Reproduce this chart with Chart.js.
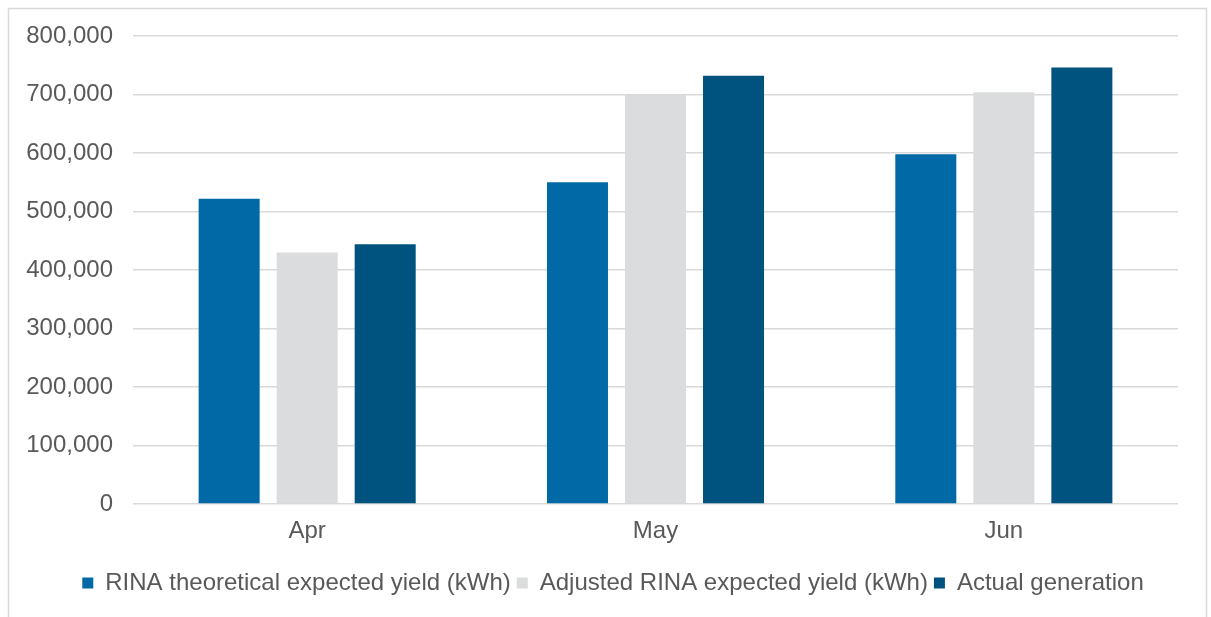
<!DOCTYPE html>
<html>
<head>
<meta charset="utf-8">
<script src="https://cdn.jsdelivr.net/npm/chart.js@4"></script>
<style>
  html, body { margin: 0; padding: 0; background: #ffffff; }
  #wrap { position: relative; width: 1211px; height: 617px; }
</style>
</head>
<body>
<div id="wrap"><canvas id="c" width="1211" height="617"></canvas></div>
<script>
const categories = ["Apr", "May", "Jun"];
const seriesNames = [
  "RINA theoretical expected yield (kWh)",
  "Adjusted RINA expected yield (kWh)",
  "Actual generation"
];
const theoretical = [522000, 550000, 598000];
const adjusted = [430000, 699000, 704000];
const actual = [444000, 732000, 746000];
const yTicks = [0, 100000, 200000, 300000, 400000, 500000, 600000, 700000, 800000];

const colors = ["#0069A6", "#DBDCDD", "#00527F"];
const textColor = "#595959";
const gridColor = "#D9D9D9";
const fontFamily = "'Liberation Sans', Arial, sans-serif";

const frame = {
  id: "frame",
  beforeDraw(chart) {
    const ctx = chart.ctx;
    ctx.save();
    ctx.fillStyle = "#ffffff";
    ctx.fillRect(0, 0, chart.width, chart.height);
    ctx.strokeStyle = gridColor;
    ctx.lineWidth = 1.5;
    ctx.strokeRect(8.5, 8.5, 1198, 640);
    ctx.restore();
  },
  afterLayout(chart) {
    // shift the legend row slightly right, as in the reference
    if (chart.legend) {
      chart.legend.left += 14;
      chart.legend.right += 14;
    }
  }
};

new Chart(document.getElementById("c"), {
  type: "bar",
  data: {
    labels: categories,
    datasets: [
      { label: seriesNames[0], data: theoretical, backgroundColor: colors[0] },
      { label: seriesNames[1], data: adjusted, backgroundColor: colors[1] },
      { label: seriesNames[2], data: actual, backgroundColor: colors[2] }
    ]
  },
  options: {
    responsive: false,
    animation: false,
    devicePixelRatio: 1,
    categoryPercentage: 0.672,
    barPercentage: 0.782,
    layout: { padding: { left: 20, right: 33, top: 36, bottom: 12 } },
    plugins: {
      legend: {
        position: "bottom",
        labels: {
          color: textColor,
          font: { family: fontFamily, size: 24 },
          boxWidth: 11,
          boxHeight: 11,
          padding: 6
        }
      },
      tooltip: { enabled: false }
    },
    scales: {
      x: {
        grid: { display: false, drawTicks: false },
        border: { display: false },
        ticks: {
          color: textColor,
          font: { family: fontFamily, size: 24 },
          padding: 13
        },
        afterFit(scale) { scale.height = 61; }
      },
      y: {
        min: 0,
        max: 800000,
        afterBuildTicks(scale) { scale.ticks = yTicks.map(v => ({ value: v })); },
        grid: { color: gridColor, lineWidth: 1.5, drawTicks: false },
        border: { display: false },
        ticks: {
          color: textColor,
          font: { family: fontFamily, size: 24 },
          padding: 20,
          callback: v => Number(v).toLocaleString("en-US")
        },
        afterFit(scale) { scale.width = 113; }
      }
    }
  },
  plugins: [frame]
});
</script>
</body>
</html>
